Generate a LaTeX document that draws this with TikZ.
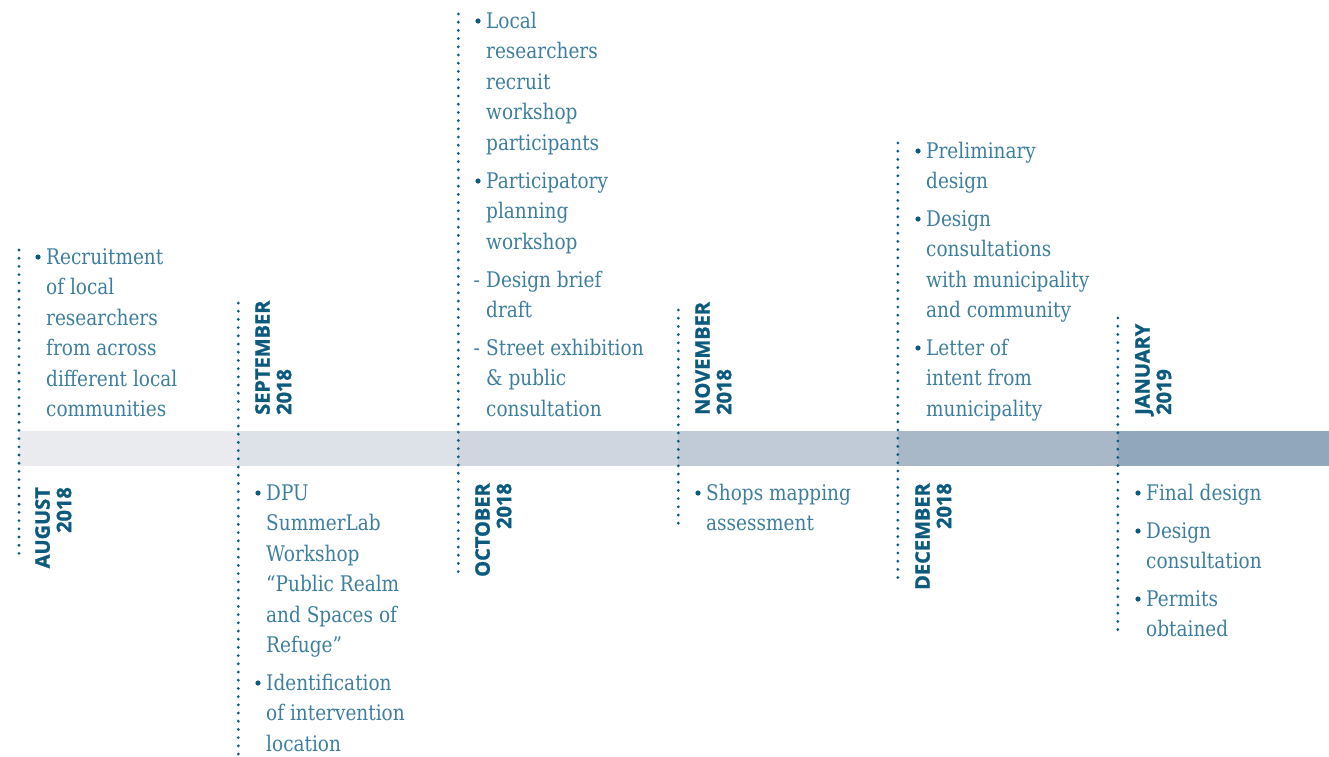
\documentclass[tikz,border=0pt]{standalone}
\usepackage{fontspec}
\setmainfont[FakeStretch=0.86]{DejaVu Serif}
\newfontfamily\labelfont{Open Sans}[BoldFeatures={FakeBold=1.2}]
\definecolor{txt}{HTML}{3D7E9E}
\definecolor{navy}{HTML}{0D5A7F}
\definecolor{bandA}{HTML}{E9EBEF}
\definecolor{bandB}{HTML}{DDE1E8}
\definecolor{bandC}{HTML}{CFD6DF}
\definecolor{bandD}{HTML}{C1CBD7}
\definecolor{bandE}{HTML}{A9B8C8}
\definecolor{bandF}{HTML}{91A7BC}
\tikzset{
  itemtext/.style={anchor=base west, inner sep=0pt, align=left, text=txt,
    font=\fontsize{21.5}{30.5}\selectfont},
  bul/.style={circle, fill=navy, inner sep=0pt, minimum size=5.2pt},
  dashmark/.style={anchor=base east, inner sep=0pt, text=txt,
    font=\fontsize{21.5}{30.5}\selectfont},
  monthlow/.style={rotate=90, anchor=north east, align=right, inner sep=0pt, text=navy,
    font=\labelfont\bfseries\fontsize{20}{21.5}\selectfont},
  monthup/.style={rotate=90, anchor=north west, align=left, inner sep=0pt, text=navy,
    font=\labelfont\bfseries\fontsize{20}{21.5}\selectfont},
  dotline/.style={navy, line width=3.1pt, line cap=round, dash pattern=on 0pt off 8.2pt}
}
\begin{document}
\begin{tikzpicture}[x=1pt,y=-1pt]
\useasboundingbox (0,0) rectangle (1329,756);
% band
\fill[bandA] (19,431) rectangle (238,466);
\fill[bandB] (238,431) rectangle (458,466);
\fill[bandC] (458,431) rectangle (678,466);
\fill[bandD] (678,431) rectangle (898,466);
\fill[bandE] (898,431) rectangle (1118,466);
\fill[bandF] (1118,431) rectangle (1329,466);
% dotted markers
\coordinate (augT) at (19,250); \coordinate (augB) at (19,559);
\coordinate (sepT) at (238.3,303); \coordinate (sepB) at (238.3,756);
\coordinate (octT) at (458.3,14); \coordinate (octB) at (458.3,574);
\coordinate (novT) at (678.3,310); \coordinate (novB) at (678.3,530);
\coordinate (decT) at (897.8,143); \coordinate (decB) at (897.8,582);
\coordinate (janT) at (1117.8,318); \coordinate (janB) at (1117.8,636);
\draw[dotline] (augT) -- (augB);
\draw[dotline] (sepT) -- (sepB);
\draw[dotline] (octT) -- (octB);
\draw[dotline] (novT) -- (novB);
\draw[dotline] (decT) -- (decB);
\draw[dotline] (janT) -- (janB);
% month labels
\node[monthlow] (augL) at (35,487) {AUGUST\\2018};
\node[monthup] (sepL) at (255,415) {SEPTEMBER\\2018};
\node[monthlow] (octL) at (475,483) {OCTOBER\\2018};
\node[monthup] (novL) at (695,415) {NOVEMBER\\2018};
\node[monthlow] (decL) at (915,483) {DECEMBER\\2018};
\node[monthup] (janL) at (1135,415) {JANUARY\\2019};
% items (anchor = baseline of the LAST line)
% August
\node[bul] (augb1) at (38,257) {};
\node[itemtext] (aug1) at (46,416.5) {Recruitment\\of local\\researchers\\from across\\different local\\communities};
% September
\node[bul] (sepb1) at (258,493) {};
\node[itemtext] (sep1) at (266,652.5) {DPU\\SummerLab\\Workshop\\“Public Realm\\and Spaces of\\Refuge”};
\node[bul] (sepb2) at (258,683) {};
\node[itemtext] (sep2) at (266,751) {Identification\\of intervention\\location};
% October
\node[bul] (octb1) at (478,21) {};
\node[itemtext] (oct1) at (486,150) {Local\\researchers\\recruit\\workshop\\participants};
\node[bul] (octb2) at (478,181) {};
\node[itemtext] (oct2) at (486,249) {Participatory\\planning\\workshop};
\node[dashmark] (octd3) at (480,287) {-};
\node[itemtext] (oct3) at (486,317.5) {Design brief\\draft};
\node[dashmark] (octd4) at (480,355) {-};
\node[itemtext] (oct4) at (486,416) {Street exhibition\\\& public\\consultation};
% November
\node[bul] (novb1) at (698,493) {};
\node[itemtext] (nov1) at (706,530.5) {Shops mapping\\assessment};
% December
\node[bul] (decb1) at (918,151) {};
\node[itemtext] (dec1) at (926,188.5) {Preliminary\\design};
\node[bul] (decb2) at (918,219) {};
\node[itemtext] (dec2) at (926,317.5) {Design\\consultations\\with municipality\\and community};
\node[bul] (decb3) at (918,348) {};
\node[itemtext] (dec3) at (926,416) {Letter of\\intent from\\municipality};
% January
\node[bul] (janb1) at (1138,493) {};
\node[itemtext] (jan1) at (1146,500) {Final design};
\node[bul] (janb2) at (1138,531) {};
\node[itemtext] (jan2) at (1146,568.5) {Design\\consultation};
\node[bul] (janb3) at (1138,599) {};
\node[itemtext] (jan3) at (1146,636.5) {Permits\\obtained};
\end{tikzpicture}
\end{document}
